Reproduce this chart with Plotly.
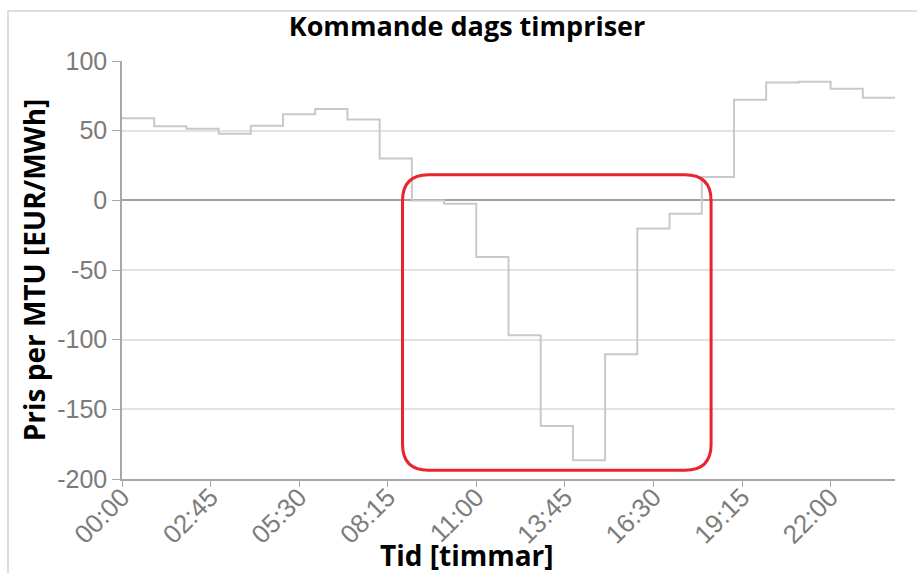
import plotly.graph_objects as go

# Hourly day-ahead prices (EUR/MWh), hour start 00..23
hour_start = [0, 1, 2, 3, 4, 5, 6, 7, 8, 9, 10, 11,
              12, 13, 14, 15, 16, 17, 18, 19, 20, 21, 22, 23]
prices = [59.0, 53.1, 51.4, 47.8, 53.6, 61.7, 65.5, 58.1, 30.1, -0.2, -2.4, -40.7,
          -96.8, -161.9, -186.5, -110.5, -20.3, -9.6, 16.7, 72.2, 84.6, 85.1, 80.1, 73.7]
day_end = 24

tick_labels = ["00:00", "02:45", "05:30", "08:15", "11:00", "13:45", "16:30", "19:15", "22:00"]
y_ticks = [-200, -150, -100, -50, 0, 50, 100]
y_tick_text = ["-200", "-150", "-100", "-50", "0", "50", "100"]

# highlighted period box (data coords)
box_x = [8.71, 18.29]
box_y = [-193.7, 18.4]

W, H = 917, 573
ML, MR, MT, MB = 122, 22, 61, 94
PW, PH = W - ML - MR, H - MT - MB


def px_x(p):
    return (p - ML) / PW


def px_y(p):
    return (H - MB - p) / PH


tick_vals = [int(t[:2]) + int(t[3:]) / 60 for t in tick_labels]

xs = hour_start + [day_end]
ys = prices + [prices[-1]]

fig = go.Figure()
fig.add_trace(go.Scatter(
    x=xs, y=ys, mode="lines", line_shape="hv",
    line=dict(color="#c9c9c9", width=2), showlegend=False, hoverinfo="x+y",
))

# rounded red highlight rectangle
x0, x1 = box_x
y0, y1 = box_y
rx = 26 / PW * day_end
ry = 26 / PH * 300
path = (f"M {x0 + rx},{y1} L {x1 - rx},{y1} Q {x1},{y1} {x1},{y1 - ry} "
        f"L {x1},{y0 + ry} Q {x1},{y0} {x1 - rx},{y0} "
        f"L {x0 + rx},{y0} Q {x0},{y0} {x0},{y0 + ry} "
        f"L {x0},{y1 - ry} Q {x0},{y1} {x0 + rx},{y1} Z")
fig.add_shape(type="path", path=path, xref="x", yref="y",
              line=dict(color="#e8242c", width=3))

# outer frame
fig.add_shape(type="rect", xref="paper", yref="paper",
              x0=px_x(8), x1=px_x(940), y0=px_y(600), y1=px_y(11),
              line=dict(color="#d4d4d4", width=1.5), layer="below")

x_font = dict(family="Liberation Sans, Arial, sans-serif", size=26, color="#7c7c7c")
y_font = dict(family="Liberation Sans, Arial, sans-serif", size=25, color="#7a7a7a")
title_font = dict(family="Open Sans, sans-serif", size=28, color="#000000", weight="bold")

# x-axis title (centred like the reference, left of plot centre)
fig.add_annotation(text="Tid [timmar]", xref="paper", yref="paper",
                   x=px_x(467), y=px_y(555), xanchor="center", yanchor="middle",
                   showarrow=False, font=title_font)

fig.update_layout(
    width=W, height=H,
    margin=dict(l=ML, r=MR, t=MT, b=MB, autoexpand=False),
    paper_bgcolor="white", plot_bgcolor="white",
    title=dict(text="Kommande dags timpriser", x=467 / W, xanchor="center",
               y=1 - 27 / H, yanchor="middle", xref="container", yref="container",
               font=dict(family="Open Sans, sans-serif", size=27, color="#000000", weight="bold")),
    xaxis=dict(
        range=[0, day_end], tickmode="array", tickvals=tick_vals, ticktext=tick_labels,
        tickangle=-45, tickfont=x_font, ticks="outside", ticklen=6, tickcolor="#a8a8a8",
        ticklabelstandoff=-15,
        showline=True, linecolor="#a8a8a8", linewidth=1.5, showgrid=False, zeroline=False,
    ),
    yaxis=dict(
        range=[-200, 100], tickmode="array", tickvals=y_ticks, ticktext=y_tick_text,
        tickfont=y_font, ticks="outside", ticklen=8, tickcolor="#a8a8a8",
        showline=True, linecolor="#a8a8a8", linewidth=1.5,
        showgrid=True, gridcolor="#e3e3e3", gridwidth=1.5,
        zeroline=True, zerolinecolor="#a0a0a0", zerolinewidth=1.5,
        title=dict(text="Pris per MTU [EUR/MWh]", font=title_font, standoff=3),
    ),
)

fig.write_html("out.html", config={"displayModeBar": False},
               post_script="document.body.style.margin='0';document.body.style.overflow='hidden';")
